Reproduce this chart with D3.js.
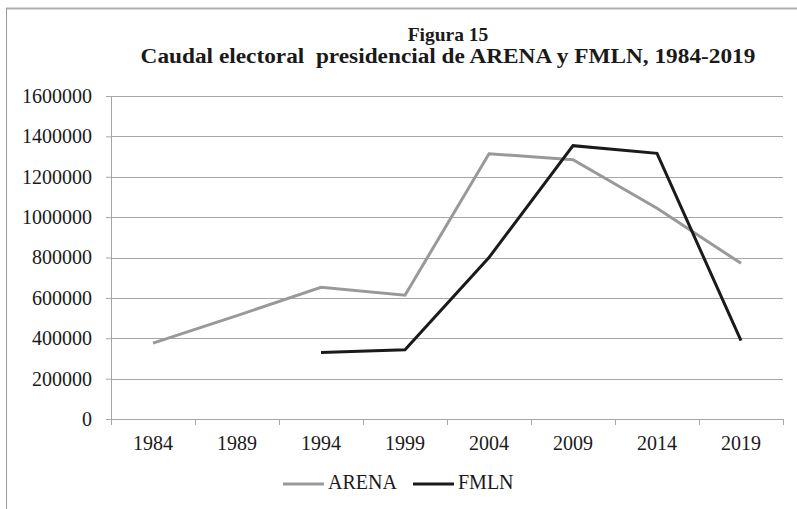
<!DOCTYPE html>
<html>
<head>
<meta charset="utf-8">
<script src="https://cdn.jsdelivr.net/npm/d3@7"></script>
<style>
  body { margin: 0; background: #fff; }
  text { font-family: "Liberation Serif", "Times New Roman", serif; fill: #1a1a1a; }
</style>
</head>
<body>
<div id="my_dataviz"></div>
<script>
// data
var years = ["1984", "1989", "1994", "1999", "2004", "2009", "2014", "2019"];
var arena = [376000, 512000, 652000, 613000, 1314000, 1284000, 1044000, 771000];
var fmln = [null, null, 330000, 343000, 800000, 1354000, 1316000, 388000];
var yTicks = [0, 200000, 400000, 600000, 800000, 1000000, 1200000, 1400000, 1600000];

var W = 797, H = 509;
var margin = {top: 96, right: 14, bottom: 90, left: 111},
    width = W - margin.left - margin.right,
    height = H - margin.top - margin.bottom;

var root = d3.select("#my_dataviz")
    .append("svg")
    .attr("width", W)
    .attr("height", H);

// outer frame
root.append("line").attr("x1", 6).attr("x2", W).attr("y1", 8.5).attr("y2", 8.5)
    .attr("stroke", "#b0b0b0").attr("stroke-width", 2);
root.append("line").attr("x1", 6.5).attr("x2", 6.5).attr("y1", 8).attr("y2", H)
    .attr("stroke", "#9a9a9a").attr("stroke-width", 1);

// title (two lines, bold serif, second one a bit stretched)
root.append("text").attr("transform", "translate(448,41)")
    .attr("text-anchor", "middle").attr("font-weight", "bold").attr("font-size", 19.5)
    .text("Figura 15");
root.append("text").attr("transform", "translate(448,63) scale(1.165,1)")
    .attr("text-anchor", "middle").attr("font-weight", "bold").attr("font-size", 20)
    .attr("xml:space", "preserve")
    .text("Caudal electoral  presidencial de ARENA y FMLN, 1984-2019");

var svg = root.append("g")
    .attr("transform", "translate(" + margin.left + "," + margin.top + ")");

var x = d3.scaleBand().domain(years).range([0, width]);
var y = d3.scaleLinear().domain([0, 1600000]).range([height, 0]);

// gridlines
svg.append("g")
    .selectAll("line")
    .data(yTicks.slice(1))
    .enter()
    .append("line")
    .attr("x1", 0).attr("x2", width)
    .attr("y1", function(d) { return Math.round(y(d)) + 0.5; })
    .attr("y2", function(d) { return Math.round(y(d)) + 0.5; })
    .attr("stroke", "#a6a6a6");

// Y axis
var yAxis = svg.append("g")
    .call(d3.axisLeft(y).tickValues(yTicks).tickSize(5).tickPadding(14).tickFormat(d3.format("d")));
yAxis.selectAll("text").attr("font-size", 20).attr("font-family", "Liberation Serif").attr("fill", "#1a1a1a");
yAxis.selectAll("line, path").attr("stroke", "#a6a6a6");

// X axis: ticks at band edges
var xAxis = svg.append("g").attr("transform", "translate(0," + height + ")");
xAxis.append("line").attr("x1", 0).attr("x2", width).attr("y1", 0.5).attr("y2", 0.5).attr("stroke", "#a6a6a6");
xAxis.selectAll(".tk")
    .data(years.concat(["end"]))
    .enter()
    .append("line")
    .attr("x1", function(d, i) { return Math.round(i * x.step()) + 0.5; })
    .attr("x2", function(d, i) { return Math.round(i * x.step()) + 0.5; })
    .attr("y1", 0).attr("y2", 6)
    .attr("stroke", "#a6a6a6");
xAxis.selectAll(".lbl")
    .data(years)
    .enter()
    .append("text")
    .attr("x", function(d) { return x(d) + x.bandwidth() / 2; })
    .attr("y", 31)
    .attr("text-anchor", "middle")
    .attr("font-size", 20)
    .text(function(d) { return d; });

// lines
var line = d3.line()
    .defined(function(d) { return d.v != null; })
    .x(function(d) { return x(d.year) + x.bandwidth() / 2; })
    .y(function(d) { return y(d.v); });

function series(vals) {
    return years.map(function(yr, i) { return {year: yr, v: vals[i]}; });
}

svg.append("path").datum(series(arena))
    .attr("d", line).attr("fill", "none")
    .attr("stroke", "#999999").attr("stroke-width", 3);
svg.append("path").datum(series(fmln))
    .attr("d", line).attr("fill", "none")
    .attr("stroke", "#1a1a1a").attr("stroke-width", 3);

// legend
var legend = root.append("g").attr("transform", "translate(0,484)");
var items = [{name: "ARENA", color: "#999999", x: 283}, {name: "FMLN", color: "#1a1a1a", x: 413}];
items.forEach(function(it) {
    legend.append("line").attr("x1", it.x).attr("x2", it.x + 41).attr("y1", 0).attr("y2", 0)
        .attr("stroke", it.color).attr("stroke-width", 3);
    legend.append("text").attr("x", it.x + 45).attr("y", 4.5).attr("font-size", 20).text(it.name);
});
</script>
</body>
</html>
